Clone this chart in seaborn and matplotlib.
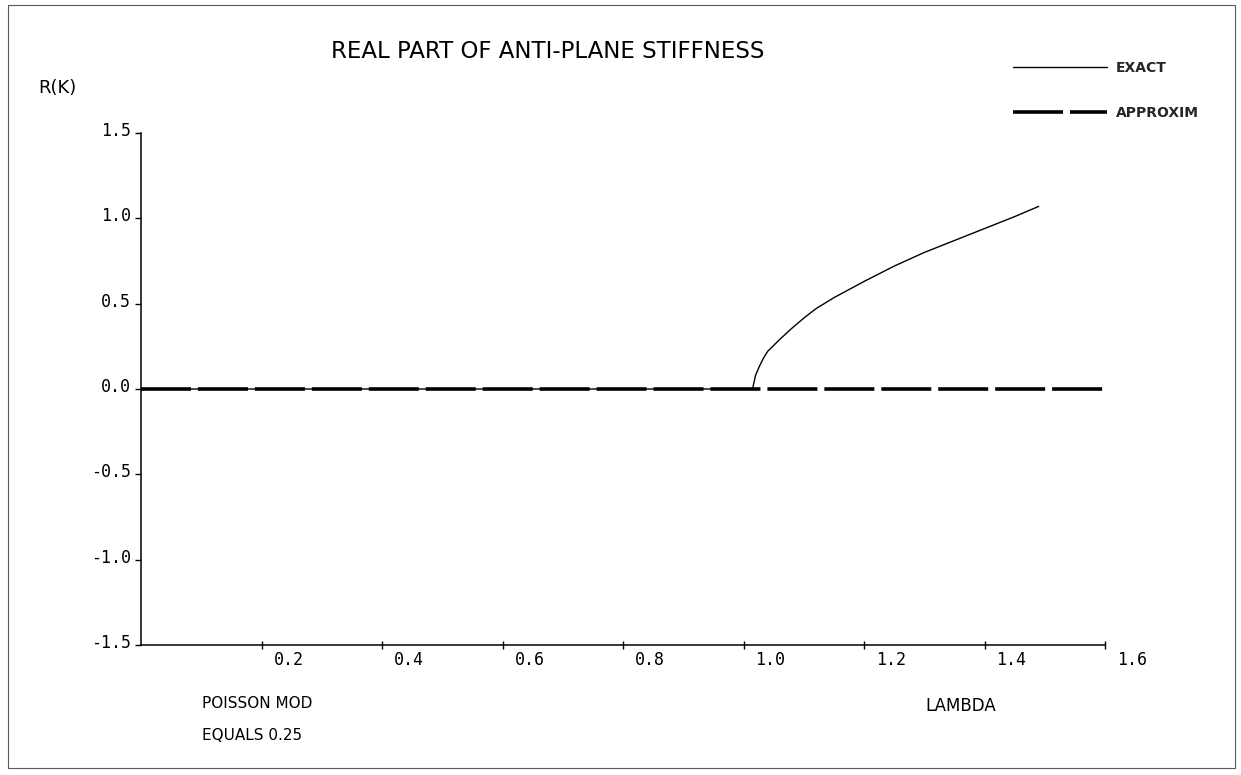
import matplotlib
matplotlib.use("Agg")
import matplotlib.pyplot as plt
import matplotlib.transforms as mtransforms
from matplotlib.patches import Rectangle
import seaborn as sns
import pandas as pd

# Real part of the anti-plane stiffness versus frequency ratio lambda
lam_exact = [0.0, 1.015, 1.02, 1.026, 1.033, 1.04, 1.06, 1.08, 1.10, 1.12,
             1.15, 1.20, 1.25, 1.30, 1.35, 1.40, 1.45, 1.49]
re_exact = [0.0, 0.0, 0.08, 0.13, 0.18, 0.22, 0.29, 0.355, 0.415, 0.47,
            0.535, 0.63, 0.72, 0.80, 0.87, 0.94, 1.01, 1.07]
lam_approx = [0.0, 1.6]
re_approx = [0.0, 0.0]

x_ticks = [0.2, 0.4, 0.6, 0.8, 1.0, 1.2, 1.4, 1.6]
y_ticks = [-1.5, -1.0, -0.5, 0.0, 0.5, 1.0, 1.5]

sns.set_theme(style="white")
plt.rcParams["axes.unicode_minus"] = False
plt.rcParams["lines.scale_dashes"] = False

W, H = 1241, 775
fig = plt.figure(figsize=(W / 100, H / 100), dpi=100)
fig.patch.set_facecolor("white")
ax = fig.add_axes([141 / W, 130 / H, 964 / W, 512 / H])
ax.set_facecolor("white")

df_exact = pd.DataFrame({"lam": lam_exact, "re": re_exact})
df_approx = pd.DataFrame({"lam": lam_approx, "re": re_approx})

sns.lineplot(data=df_exact, x="lam", y="re", ax=ax, color="black",
             linewidth=1.0, label="EXACT", zorder=2)
sns.lineplot(data=df_approx, x="lam", y="re", ax=ax, color="black",
             linewidth=2.6, label="APPROXIM", zorder=3)
ax.lines[1].set_linestyle((0, (36, 5)))

ax.set_xlim(0, 1.6)
ax.set_ylim(-1.5, 1.5)
ax.set_xlabel("")
ax.set_ylabel("")

for side in ["top", "right"]:
    ax.spines[side].set_visible(False)
for side in ["left", "bottom"]:
    ax.spines[side].set_color("black")
    ax.spines[side].set_linewidth(1.1)

mono = "DejaVu Sans Mono"
ax.set_xticks(x_ticks)
ax.set_xticklabels([f"{v:.1f}" for v in x_ticks], family=mono, fontsize=12)
ax.set_yticks(y_ticks)
ax.set_yticklabels([f"{v:.1f}" for v in y_ticks], family=mono, fontsize=12)
ax.tick_params(axis="x", direction="inout", length=6, width=1.0,
               colors="black", pad=1, bottom=True)
ax.tick_params(axis="y", direction="out", length=4, width=1.0,
               colors="black", pad=3, left=True)

# Shift tick labels the way the plotter placed them
dx = mtransforms.ScaledTranslation(27 / 100, 0, fig.dpi_scale_trans)
for lbl in ax.get_xticklabels():
    lbl.set_transform(lbl.get_transform() + dx)
dy = mtransforms.ScaledTranslation(0, 4 / 100, fig.dpi_scale_trans)
for lbl in ax.get_yticklabels():
    lbl.set_transform(lbl.get_transform() + dy)

leg = ax.legend(loc="upper left", bbox_to_anchor=(1013 / W, 1 - 61 / H),
                bbox_transform=fig.transFigure, frameon=False,
                handlelength=6.8, handletextpad=0.6, labelspacing=2.2,
                borderpad=0, borderaxespad=0,
                prop={"family": "DejaVu Sans", "weight": "bold", "size": 10})

fig.text(548 / W, 1 - 52 / H, "REAL PART OF ANTI-PLANE STIFFNESS",
         ha="center", va="center", fontsize=16.5, family="DejaVu Sans",
         color="black")
fig.text(38 / W, 1 - 88 / H, "R(K)", ha="left", va="center",
         fontsize=13, family="DejaVu Sans", color="black")
fig.text(202 / W, 1 - 704 / H, "POISSON MOD", ha="left", va="center",
         fontsize=11, family="DejaVu Sans", color="black")
fig.text(202 / W, 1 - 736 / H, "EQUALS 0.25", ha="left", va="center",
         fontsize=11, family="DejaVu Sans", color="black")
fig.text(925 / W, 1 - 706 / H, "LAMBDA", ha="left", va="center",
         fontsize=12, family="DejaVu Sans", color="black")

fig.add_artist(Rectangle((8 / W, 7 / H), (1235 - 8) / W, (770 - 7) / H,
                         transform=fig.transFigure, fill=False,
                         edgecolor="0.35", linewidth=0.8))

fig.savefig("out.png", dpi=100, facecolor="white")
